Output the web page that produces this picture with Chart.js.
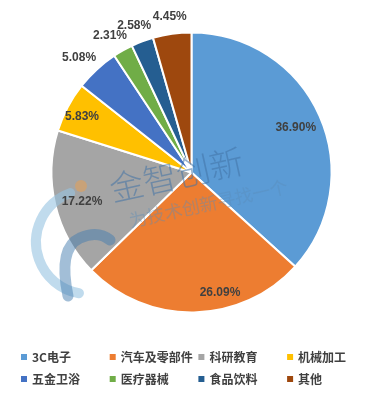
<!DOCTYPE html>
<html>
<head>
<meta charset="utf-8">
<script src="https://cdn.jsdelivr.net/npm/chart.js@4/dist/chart.umd.min.js"></script>
<style>
html,body{margin:0;padding:0;background:#fff;}
#wrap{width:366px;height:400px;position:relative;}
</style>
</head>
<body>
<div id="wrap"><canvas id="c" width="366" height="400"></canvas></div>
<script>
const categories = ['3C电子','汽车及零部件','科研教育','机械加工','五金卫浴','医疗器械','食品饮料','其他'];
const shares = [36.90, 26.09, 17.22, 5.83, 5.08, 2.31, 2.58, 4.45];
const colors = ['#5B9BD5','#ED7D31','#A5A5A5','#FFC000','#4472C4','#70AD47','#255E91','#9E480E'];

// label placement (radius factor, angle shift in degrees) per slice
const labelRadius = [0.81, 0.884, 0.81, 0.877, 1.146, 1.136, 1.124, 1.121];
const labelShift  = [0.7, -12.3, -1.7, -1.0, -1.9, -1.5, -0.8, 0];

const watermark = {
  id: 'watermark',
  afterDatasetsDraw(chart) {
    const ctx = chart.ctx;
    ctx.save();
    // swirl logo (approximation)
    ctx.lineCap = 'round';
    ctx.strokeStyle = 'rgba(150,195,225,0.6)';
    ctx.lineWidth = 10;
    ctx.beginPath();
    ctx.arc(88, 242, 52, 250*Math.PI/180, 100*Math.PI/180, true);
    ctx.stroke();
    ctx.strokeStyle = 'rgba(70,125,175,0.5)';
    ctx.lineWidth = 11;
    ctx.beginPath();
    ctx.moveTo(68, 296);
    ctx.quadraticCurveTo(58, 248, 80, 238);
    ctx.quadraticCurveTo(98, 230, 110, 240);
    ctx.stroke();
    ctx.fillStyle = 'rgba(225,160,90,0.6)';
    ctx.beginPath();
    ctx.arc(81, 186, 6, 0, Math.PI*2);
    ctx.fill();
    // text
    ctx.translate(113, 203);
    ctx.rotate(-12.5*Math.PI/180);
    ctx.fillStyle = 'rgba(65,115,165,0.55)';
    ctx.font = '300 34px "Noto Sans CJK SC"';
    ctx.textBaseline = 'alphabetic';
    ctx.textAlign = 'left';
    ctx.fillText('金智创新', 0, -1);
    ctx.font = '18px "Noto Sans CJK SC"';
    ctx.fillStyle = 'rgba(90,140,185,0.4)';
    ctx.fillText('为技术创新寻找一个', 12, 28);
    ctx.restore();
  }
};

const sliceLabels = {
  id: 'sliceLabels',
  afterDatasetsDraw(chart) {
    const ctx = chart.ctx;
    const meta = chart.getDatasetMeta(0);
    ctx.save();
    ctx.font = 'bold 12px "Liberation Sans", Arial, sans-serif';
    ctx.fillStyle = '#404040';
    ctx.textAlign = 'center';
    ctx.textBaseline = 'middle';
    meta.data.forEach((arc, i) => {
      const p = arc.getProps(['x','y','startAngle','endAngle','outerRadius'], true);
      const mid = (p.startAngle + p.endAngle)/2 + labelShift[i]*Math.PI/180;
      const r = p.outerRadius * labelRadius[i];
      const x = p.x + Math.cos(mid)*r;
      const y = p.y + Math.sin(mid)*r;
      ctx.fillText(shares[i].toFixed(2) + '%', x, y);
    });
    ctx.restore();
  }
};

const gridLegend = {
  id: 'gridLegend',
  afterDraw(chart) {
    const ctx = chart.ctx;
    ctx.save();
    ctx.font = 'bold 12px "Noto Sans CJK SC", sans-serif';
    ctx.textBaseline = 'middle';
    ctx.textAlign = 'left';
    const colX = 21, colW = 88.7, rowY = [357, 379];
    categories.forEach((name, i) => {
      const col = i % 4, row = Math.floor(i / 4);
      const x = colX + col*colW, y = rowY[row];
      ctx.fillStyle = colors[i];
      ctx.fillRect(x, y - 3, 6, 6);
      ctx.fillStyle = '#404040';
      ctx.fillText(name, x + 11, y + 0.5);
    });
    ctx.restore();
  }
};

new Chart(document.getElementById('c'), {
  type: 'pie',
  data: {
    labels: categories,
    datasets: [{
      data: shares,
      backgroundColor: colors,
      borderColor: '#ffffff',
      borderWidth: 2
    }]
  },
  options: {
    responsive: false,
    animation: false,
    layout: { padding: { top: 31.5, bottom: 86.5, left: 30, right: 13 } },
    plugins: {
      legend: { display: false },
      tooltip: { enabled: false },
      title: { display: false }
    }
  },
  plugins: [watermark, sliceLabels, gridLegend]
});
</script>
</body>
</html>
